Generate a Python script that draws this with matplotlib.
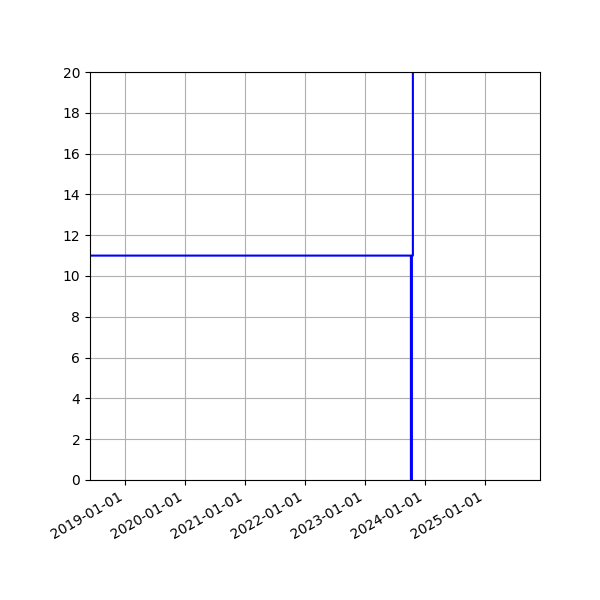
import matplotlib
matplotlib.use('Agg')
from matplotlib import pyplot as plt
import matplotlib.dates as mdates
import pandas as pd

# DATA
dates = ['2018-06-01', '2023-10-07', '2023-10-09', '2023-10-13',
         '2023-10-19', '2023-10-20']
values = [11, 11, -1000, 11, 11, 1000]
x_range = ['2018-06-01', '2025-12-01']
y_range = [0, 20]

series = pd.Series(values, index=pd.to_datetime(dates))

fig, ax = plt.subplots(figsize=(6, 6), dpi=100)
fig.subplots_adjust(left=0.15, right=0.9, top=0.88, bottom=0.2)

ax.plot(series.index, series.values, color='blue')
ax.set_xlim(pd.to_datetime(x_range[0]), pd.to_datetime(x_range[1]))
ax.set_ylim(y_range)
ax.set_yticks(range(0, 21, 2))
ax.grid(True)
ax.xaxis.set_major_locator(mdates.YearLocator())
ax.xaxis.set_major_formatter(mdates.DateFormatter('%Y-%m-%d'))
fig.autofmt_xdate(bottom=0.2, rotation=30, ha='right')

plt.savefig('out.png', dpi=100)
